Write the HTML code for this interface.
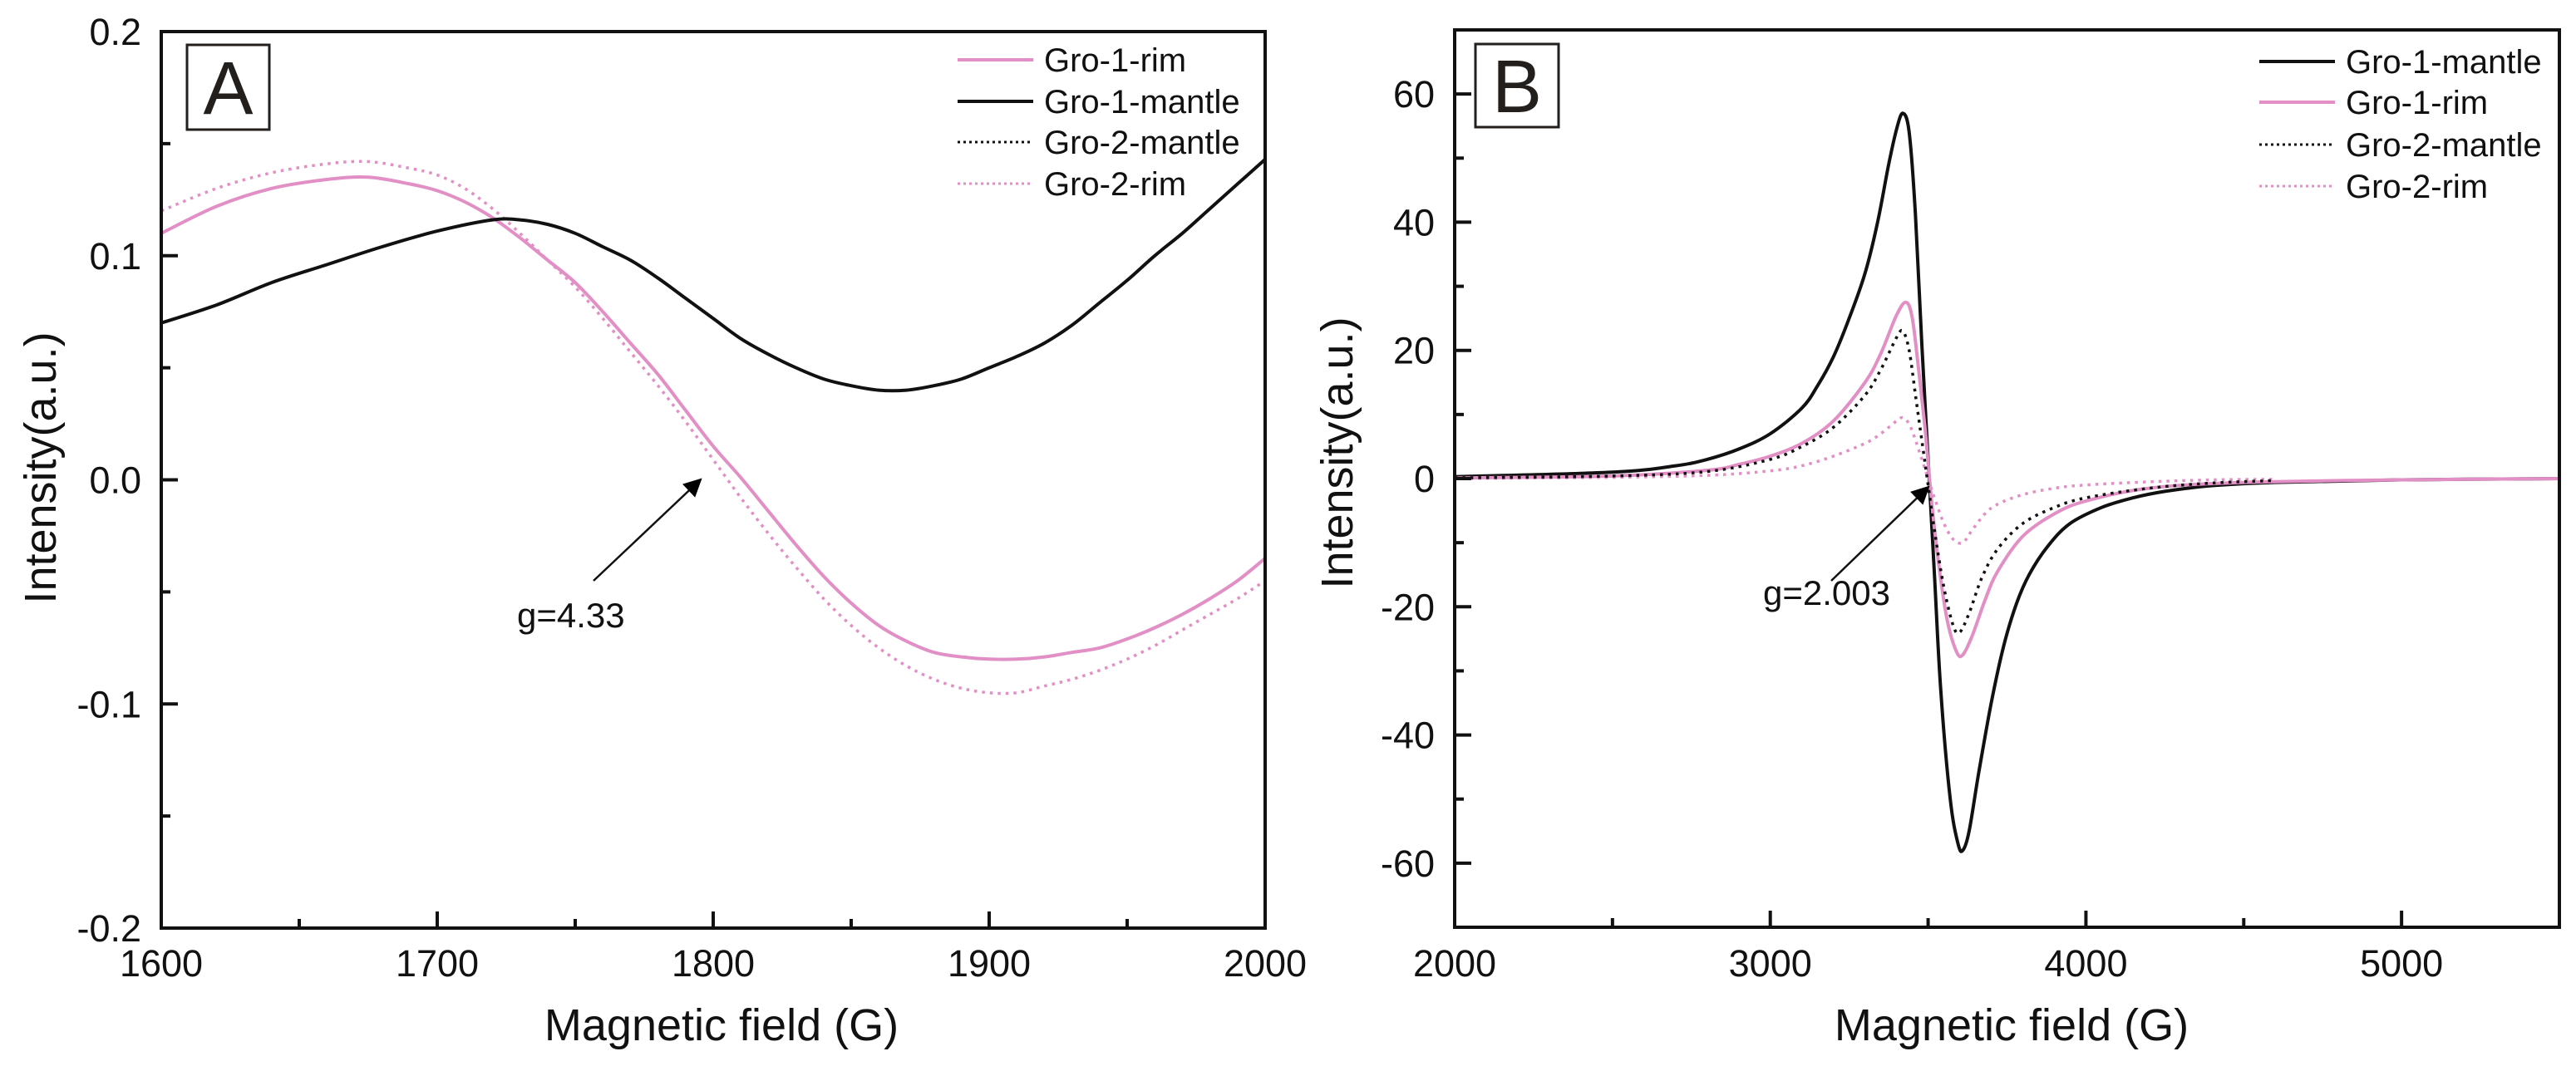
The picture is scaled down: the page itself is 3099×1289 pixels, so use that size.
<!DOCTYPE html>
<html><head><meta charset="utf-8">
<style>
html,body{margin:0;padding:0;background:#fff;}
svg{display:block;font-family:"Liberation Sans",Arial,sans-serif;}
</style></head>
<body>
<svg id="fig" width="3099" height="1289" viewBox="0 0 3099 1289" xmlns="http://www.w3.org/2000/svg">
<defs>
<marker id="ah2" viewBox="0 0 10 10" refX="9" refY="5" markerWidth="34" markerHeight="22" markerUnits="userSpaceOnUse" orient="auto">
<path d="M0,0 L10,5 L0,10 z" fill="#000"/>
</marker>
</defs>
<g id="panelA"></g>
<g id="panelB"></g>
</svg>
<script>
// ---------- Panel A data ----------
const aX = [1600,1620,1640,1660,1675,1690,1700,1710,1720,1730,1740,1750,1760,1770,1780,1790,1800,1810,1820,1830,1840,1850,1860,1870,1880,1890,1900,1910,1920,1930,1940,1950,1960,1970,1980,1990,2000];
const aRim1 = [0.110,0.122,0.130,0.134,0.135,0.132,0.129,0.124,0.117,0.108,0.098,0.088,0.075,0.061,0.047,0.031,0.015,0.001,-0.014,-0.029,-0.043,-0.055,-0.065,-0.072,-0.077,-0.079,-0.080,-0.080,-0.079,-0.077,-0.075,-0.071,-0.066,-0.060,-0.053,-0.045,-0.035];
const aRim2 = [0.120,0.130,0.137,0.141,0.142,0.139,0.136,0.130,0.121,0.110,0.098,0.086,0.072,0.057,0.042,0.026,0.009,-0.008,-0.024,-0.039,-0.053,-0.065,-0.075,-0.083,-0.089,-0.093,-0.095,-0.095,-0.092,-0.089,-0.085,-0.080,-0.074,-0.067,-0.060,-0.053,-0.045];
const aMX = [1600,1620,1640,1660,1680,1700,1720,1730,1740,1750,1760,1770,1780,1790,1800,1810,1820,1830,1840,1850,1860,1870,1880,1890,1900,1910,1920,1930,1940,1950,1960,1970,1980,1990,2000];
const aMantle1 = [0.070,0.078,0.088,0.096,0.104,0.111,0.116,0.116,0.114,0.110,0.104,0.098,0.090,0.081,0.072,0.063,0.056,0.050,0.045,0.042,0.040,0.040,0.042,0.045,0.050,0.055,0.061,0.069,0.079,0.089,0.100,0.110,0.121,0.132,0.143];
const aXTicks = [1600,1700,1800,1900,2000];
const aYTicks = [0.2,0.1,0.0,-0.1,-0.2];
const aYTickLabels = ["0.2","0.1","0.0","-0.1","-0.2"];

// ---------- Panel B data ----------
const bM1X = [2000,2500,2700,2800,2900,3000,3100,3150,3200,3250,3300,3340,3375,3400,3420,3440,3460,3480,3500,3520,3540,3570,3595,3610,3630,3660,3700,3740,3780,3820,3880,3950,4050,4150,4250,4400,4600,5000,5500];
const bM1Y = [0.3,1.0,2.0,3.0,4.6,7.0,11,14.5,19,25,32,40,49,54.5,57,54,41,21,3,-15,-33,-50,-57,-58,-55,-46,-35,-26,-19.5,-15,-10.5,-7,-4.5,-3,-2,-1.1,-0.6,-0.2,0];
const bR1X = [2000,2500,2800,2900,3000,3100,3200,3300,3350,3400,3430,3450,3470,3490,3510,3530,3560,3590,3610,3640,3680,3720,3800,3900,4000,4200,4500,5000,5500];
const bR1Y = [0.1,0.4,1.3,2.2,3.5,5.5,9,15,19.5,25.5,27.5,25,17,8,-3,-12,-22,-27,-27.5,-24.5,-19,-14.5,-9,-5.5,-3.5,-1.5,-0.6,-0.2,0];
const bM2X = [2000,2500,2800,3000,3100,3200,3300,3350,3400,3420,3440,3460,3480,3500,3520,3550,3580,3600,3630,3670,3720,3800,3900,4000,4200,4400,4600];
const bM2Y = [0.1,0.4,1.1,3,5,8,13,17,22,23,20,13,6,-1,-8,-17,-23,-24,-21,-15.5,-11,-7,-4.5,-3,-1.5,-0.7,-0.3];
const bR2X = [2000,2500,2800,3000,3100,3200,3300,3350,3400,3420,3440,3460,3480,3500,3520,3550,3580,3610,3640,3680,3720,3800,3900,4000,4200,4400,4600];
const bR2Y = [0,0.2,0.5,1.2,2,3.5,5.5,7,9,9.5,8.5,6,3,0,-3,-7,-9.5,-10,-8,-5.5,-4,-2.5,-1.5,-1,-0.5,-0.2,-0.1];
const bXTicks = [2000,3000,4000,5000];
const bYTicks = [60,40,20,0,-20,-40,-60];

const NS = "http://www.w3.org/2000/svg";
const PINK = "#e28fc6";
function mk(tag, attrs, parent){
  const e = document.createElementNS(NS, tag);
  for (const k in attrs) e.setAttribute(k, attrs[k]);
  parent.appendChild(e);
  return e;
}
function lin(d0,d1,r0,r1){ return v => r0 + (v-d0)/(d1-d0)*(r1-r0); }
function smoothPath(xs, ys, sx, sy){
  const p = xs.map((x,i)=>[sx(x), sy(ys[i])]);
  let d = "M" + p[0][0].toFixed(1) + "," + p[0][1].toFixed(1);
  for (let i=0;i<p.length-1;i++){
    const p0 = p[i-1]||p[i], p1=p[i], p2=p[i+1], p3=p[i+2]||p2;
    const c1x = p1[0]+(p2[0]-p0[0])/6, c1y = p1[1]+(p2[1]-p0[1])/6;
    const c2x = p2[0]-(p3[0]-p1[0])/6, c2y = p2[1]-(p3[1]-p1[1])/6;
    d += " C"+c1x.toFixed(1)+","+c1y.toFixed(1)+" "+c2x.toFixed(1)+","+c2y.toFixed(1)+" "+p2[0].toFixed(1)+","+p2[1].toFixed(1);
  }
  return d;
}

// ---------- Panel A ----------
(function(){
  const g = document.getElementById("panelA");
  const L=194,R=1522,T=38,B=1117;
  const sx = lin(1600,2000,L,R), sy = lin(0.2,-0.2,T,B);
  const clip = mk("clipPath",{id:"clipA"},g); mk("rect",{x:L,y:T,width:R-L,height:B-T},clip);
  const series = mk("g",{"clip-path":"url(#clipA)"},g);
  let p;
  p = mk("path",{d:smoothPath(aX,aRim2,sx,sy),fill:"none",stroke:PINK,"stroke-width":3.5,"stroke-dasharray":"3.5 6"},series);
  
  
  p = mk("path",{d:smoothPath(aX,aRim1,sx,sy),fill:"none",stroke:PINK,"stroke-width":4},series);
  
  
  p = mk("path",{d:smoothPath(aMX,aMantle1,sx,sy),fill:"none",stroke:"#111","stroke-width":4},series);
  
  
  const fr = mk("rect",{x:L,y:T,width:R-L,height:B-T,fill:"none",stroke:"#111","stroke-width":4},g);
  
  
  for (let v=1600; v<=2000; v+=50){
    const major = (v%100===0);
    const t = mk("line",{x1:sx(v),x2:sx(v),y1:B,y2:B-(major?20:11),stroke:"#111","stroke-width":4},g);
    
    
  }
  aXTicks.forEach(v=>{
    const t = mk("text",{x:sx(v),y:1175,"font-size":45,"text-anchor":"middle",fill:"#111"},g);
    t.textContent = String(v);
    
    
  });
  for (let k=-4;k<=4;k++){
    const v=k*0.05, major=(k%2===0);
    const t = mk("line",{x1:L,x2:L+(major?20:11),y1:sy(v),y2:sy(v),stroke:"#111","stroke-width":4},g);
    
    
  }
  aYTicks.forEach((v,i)=>{
    const t = mk("text",{x:170,y:sy(v)+16,"font-size":45,"text-anchor":"end",fill:"#111"},g);
    t.textContent = aYTickLabels[i];
    
    
  });
  let t = mk("text",{x:868,y:1252,"font-size":54,"text-anchor":"middle",fill:"#111"},g);
  t.textContent="Magnetic field (G)";
  
  
  t = mk("text",{x:0,y:0,"font-size":54,"text-anchor":"middle",fill:"#111",transform:"translate(67,563) rotate(-90)"},g);
  t.textContent="Intensity(a.u.)";
  
  
  const lb = mk("rect",{x:225,y:54,width:99,height:102,fill:"#fff",stroke:"#231f1c","stroke-width":3},g);
  
  
  t = mk("text",{x:274.5,y:137,"font-size":90,"text-anchor":"middle",fill:"#231f1c"},g);
  t.textContent="A";
  
  
  const leg = [["Gro-1-rim",PINK,false,72],["Gro-1-mantle","#111",false,122],["Gro-2-mantle","#111",true,171],["Gro-2-rim",PINK,true,221]];
  leg.forEach(e=>{
    const ln = mk("line",{x1:1152,x2:1243,y1:e[3],y2:e[3],stroke:e[1],"stroke-width":e[2]?3:4},g);
    if (e[2]) ln.setAttribute("stroke-dasharray","3 4");
    
    
    const tx = mk("text",{x:1256,y:e[3]+14,"font-size":40,fill:"#111"},g);
    tx.textContent=e[0];
    
    
  });
  const ar = mk("line",{x1:714,y1:699,x2:843,y2:577,stroke:"#111","stroke-width":2.5,"marker-end":"url(#ah2)"},g);
  
  
  t = mk("text",{x:622,y:755,"font-size":42,fill:"#111"},g);
  t.textContent="g=4.33";
  
  
})();

// ---------- Panel B ----------
(function(){
  const g = document.getElementById("panelB");
  const L=1750,R=3079,T=36,B=1116;
  const sx = lin(2000,5500,L,R), sy = lin(70,-70,T,B);
  const clip = mk("clipPath",{id:"clipB"},g); mk("rect",{x:L,y:T,width:R-L,height:B-T},clip);
  const series = mk("g",{"clip-path":"url(#clipB)"},g);
  let p;
  p = mk("path",{d:smoothPath(bR2X,bR2Y,sx,sy),fill:"none",stroke:PINK,"stroke-width":3.5,"stroke-dasharray":"3.5 6"},series);
  
  
  p = mk("path",{d:smoothPath(bM1X,bM1Y,sx,sy),fill:"none",stroke:"#111","stroke-width":4},series);
  
  
  p = mk("path",{d:smoothPath(bR1X,bR1Y,sx,sy),fill:"none",stroke:PINK,"stroke-width":4},series);
  
  
  p = mk("path",{d:smoothPath(bM2X,bM2Y,sx,sy),fill:"none",stroke:"#111","stroke-width":3.5,"stroke-dasharray":"3.5 6"},series);
  
  
  const fr = mk("rect",{x:L,y:T,width:R-L,height:B-T,fill:"none",stroke:"#111","stroke-width":4},g);
  
  
  for (let v=2000; v<=5500; v+=500){
    const major=(v%1000===0);
    const t = mk("line",{x1:sx(v),x2:sx(v),y1:B,y2:B-(major?20:11),stroke:"#111","stroke-width":4},g);
    
    
  }
  bXTicks.forEach(v=>{
    const t = mk("text",{x:sx(v),y:1175,"font-size":45,"text-anchor":"middle",fill:"#111"},g);
    t.textContent=String(v);
    
    
  });
  for (let v=-70; v<=70; v+=10){
    const major=(v%20===0);
    const t = mk("line",{x1:L,x2:L+(major?20:11),y1:sy(v),y2:sy(v),stroke:"#111","stroke-width":4},g);
    
    
  }
  bYTicks.forEach(v=>{
    const t = mk("text",{x:1726,y:sy(v)+16,"font-size":45,"text-anchor":"end",fill:"#111"},g);
    t.textContent=String(v);
    
    
  });
  let t = mk("text",{x:2420,y:1252,"font-size":54,"text-anchor":"middle",fill:"#111"},g);
  t.textContent="Magnetic field (G)";
  
  
  t = mk("text",{x:0,y:0,"font-size":54,"text-anchor":"middle",fill:"#111",transform:"translate(1627,545) rotate(-90)"},g);
  t.textContent="Intensity(a.u.)";
  
  
  const lb = mk("rect",{x:1775,y:53,width:100,height:100,fill:"#fff",stroke:"#231f1c","stroke-width":3},g);
  
  
  t = mk("text",{x:1825,y:135,"font-size":90,"text-anchor":"middle",fill:"#231f1c"},g);
  t.textContent="B";
  
  
  const leg = [["Gro-1-mantle","#111",false,74],["Gro-1-rim",PINK,false,123],["Gro-2-mantle","#111",true,174],["Gro-2-rim",PINK,true,224]];
  leg.forEach(e=>{
    const ln = mk("line",{x1:2718,x2:2809,y1:e[3],y2:e[3],stroke:e[1],"stroke-width":e[2]?3:4},g);
    if (e[2]) ln.setAttribute("stroke-dasharray","3 4");
    
    
    const tx = mk("text",{x:2822,y:e[3]+14,"font-size":40,fill:"#111"},g);
    tx.textContent=e[0];
    
    
  });
  const ar = mk("line",{x1:2203,y1:699,x2:2320,y2:586,stroke:"#111","stroke-width":2.5,"marker-end":"url(#ah2)"},g);
  
  
  t = mk("text",{x:2121,y:728,"font-size":42,fill:"#111"},g);
  t.textContent="g=2.003";
  
  
})();
</script>
</body></html>
